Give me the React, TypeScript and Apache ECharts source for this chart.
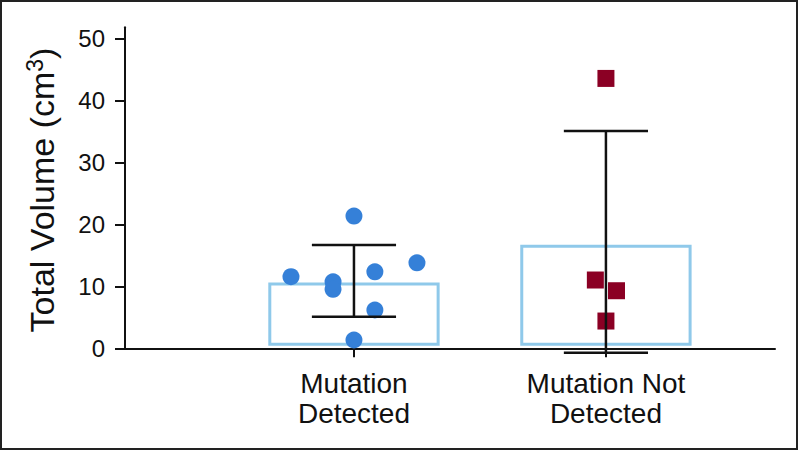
import React, { useEffect, useRef } from "react";
import * as echarts from "echarts";

// ---- data ----
const categories = ["Mutation\nDetected", "Mutation Not\nDetected"];
const categoryPositions = [1, 2];
const yTicks = [0, 10, 20, 30, 40, 50];
const means = [10.6, 16.7];
const errLow = [5.1, -0.7];
const errHigh = [16.66, 35.05];
// [x jitter offset, value]
const detectedPoints: [number, number][] = [
  [0, 21.34],
  [0.25, 13.8],
  [0.083, 12.35],
  [-0.25, 11.55],
  [-0.083, 10.74],
  [-0.083, 9.52],
  [0.083, 6.18],
  [0, 1.34],
];
const notDetectedPoints: [number, number][] = [
  [0, 43.55],
  [-0.042, 11.02],
  [0.042, 9.29],
  [0, 4.4],
];

const FONT = "'Liberation Sans', Arial, Helvetica, sans-serif";

export default function App() {
  const ref = useRef<HTMLDivElement>(null);
  useEffect(() => {
    if (!ref.current) return;
    const chart = echarts.init(ref.current, undefined, { renderer: "svg" });

    const boxHalf = 0.34;
    const capHalf = 0.167;
    const boxLw = 3;

    const option: any = {
      animation: false,
      backgroundColor: "#ffffff",
      grid: { left: 125, right: 23, top: 27.3, bottom: 101.7, containLabel: false },
      xAxis: {
        type: "value",
        min: 0.0913,
        max: 2.671,
        splitLine: { show: false },
        axisLine: { show: true, onZero: false, lineStyle: { color: "#111", width: 2 } },
        axisTick: {
          show: true,
          customValues: categoryPositions,
          length: 9,
          lineStyle: { color: "#111", width: 2 },
        },
        axisLabel: {
          show: true,
          customValues: categoryPositions,
          margin: 20,
          fontSize: 28,
          lineHeight: 30,
          color: "#111",
          fontFamily: FONT,
          align: "center",
          formatter: (v: number) => categories[Math.round(v) - 1] ?? "",
        },
      },
      yAxis: {
        type: "value",
        min: 0,
        max: 51.8,
        splitLine: { show: false },
        axisLine: { show: true, lineStyle: { color: "#111", width: 2 } },
        axisTick: {
          show: true,
          customValues: yTicks,
          length: 10,
          lineStyle: { color: "#111", width: 2 },
        },
        axisLabel: {
          show: true,
          customValues: yTicks,
          margin: 20,
          fontSize: 24,
          color: "#111",
          fontFamily: FONT,
        },
      },
      graphic: [
        {
          type: "text",
          x: 42,
          y: 190,
          rotation: Math.PI / 2,
          style: {
            text: "Total Volume (cm{sup|3})",
            fontSize: 34,
            lineHeight: 38,
            fontFamily: FONT,
            fill: "#111",
            align: "center",
            verticalAlign: "middle",
            rich: {
              sup: {
                fontSize: 23,
                lineHeight: 23,
                verticalAlign: "top",
                fontFamily: FONT,
                fill: "#111",
              },
            },
          },
        },
        {
          type: "rect",
          shape: { x: 1, y: 1, width: 796, height: 448 },
          style: { fill: "none", stroke: "#222", lineWidth: 2 },
          silent: true,
          z: 100,
        },
      ],
      series: [
        {
          type: "custom",
          name: "mean",
          z: 1,
          data: categoryPositions.map((x, i) => [x, means[i]]),
          renderItem: (params: any, api: any) => {
            const x = api.value(0);
            const m = api.value(1);
            const p1 = api.coord([x - boxHalf, m]);
            const p2 = api.coord([x + boxHalf, 0]);
            const inset = boxLw / 2;
            return {
              type: "rect",
              shape: {
                x: p1[0] + inset,
                y: p1[1] + inset,
                width: p2[0] - p1[0] - 2 * inset,
                height: p2[1] - p1[1] - 2 * inset - 2.5,
              },
              style: { fill: "none", stroke: "#8fc9ea", lineWidth: boxLw },
            };
          },
        },
        {
          type: "scatter",
          name: "Mutation Detected",
          z: 3,
          symbol: "circle",
          symbolSize: 17,
          itemStyle: { color: "#3580d8", opacity: 1 },
          data: detectedPoints.map((p) => [categoryPositions[0] + p[0], p[1]]),
        },
        {
          type: "scatter",
          name: "Mutation Not Detected",
          z: 3,
          symbol: "rect",
          symbolSize: 17,
          itemStyle: { color: "#8b0024", opacity: 1 },
          data: notDetectedPoints.map((p) => [categoryPositions[1] + p[0], p[1]]),
        },
        {
          type: "custom",
          name: "sd",
          z: 4,
          clip: false,
          data: categoryPositions.map((x, i) => [x, errLow[i], errHigh[i]]),
          renderItem: (params: any, api: any) => {
            const x = api.value(0);
            const lo = api.value(1);
            const hi = api.value(2);
            const top = api.coord([x, hi]);
            const bot = api.coord([x, lo]);
            const capL = api.coord([x - capHalf, hi]);
            const capR = api.coord([x + capHalf, hi]);
            const ls = { stroke: "#111", lineWidth: 2.5 };
            return {
              type: "group",
              children: [
                { type: "line", shape: { x1: top[0], y1: top[1], x2: bot[0], y2: bot[1] }, style: ls },
                { type: "line", shape: { x1: capL[0], y1: top[1], x2: capR[0], y2: top[1] }, style: ls },
                { type: "line", shape: { x1: capL[0], y1: bot[1], x2: capR[0], y2: bot[1] }, style: ls },
              ],
            };
          },
        },
      ],
    };
    chart.setOption(option);
    return () => chart.dispose();
  }, []);
  return (
    <div
      ref={ref}
      style={{ position: "absolute", left: 0, top: 0, width: 798, height: 450 }}
    />
  );
}
